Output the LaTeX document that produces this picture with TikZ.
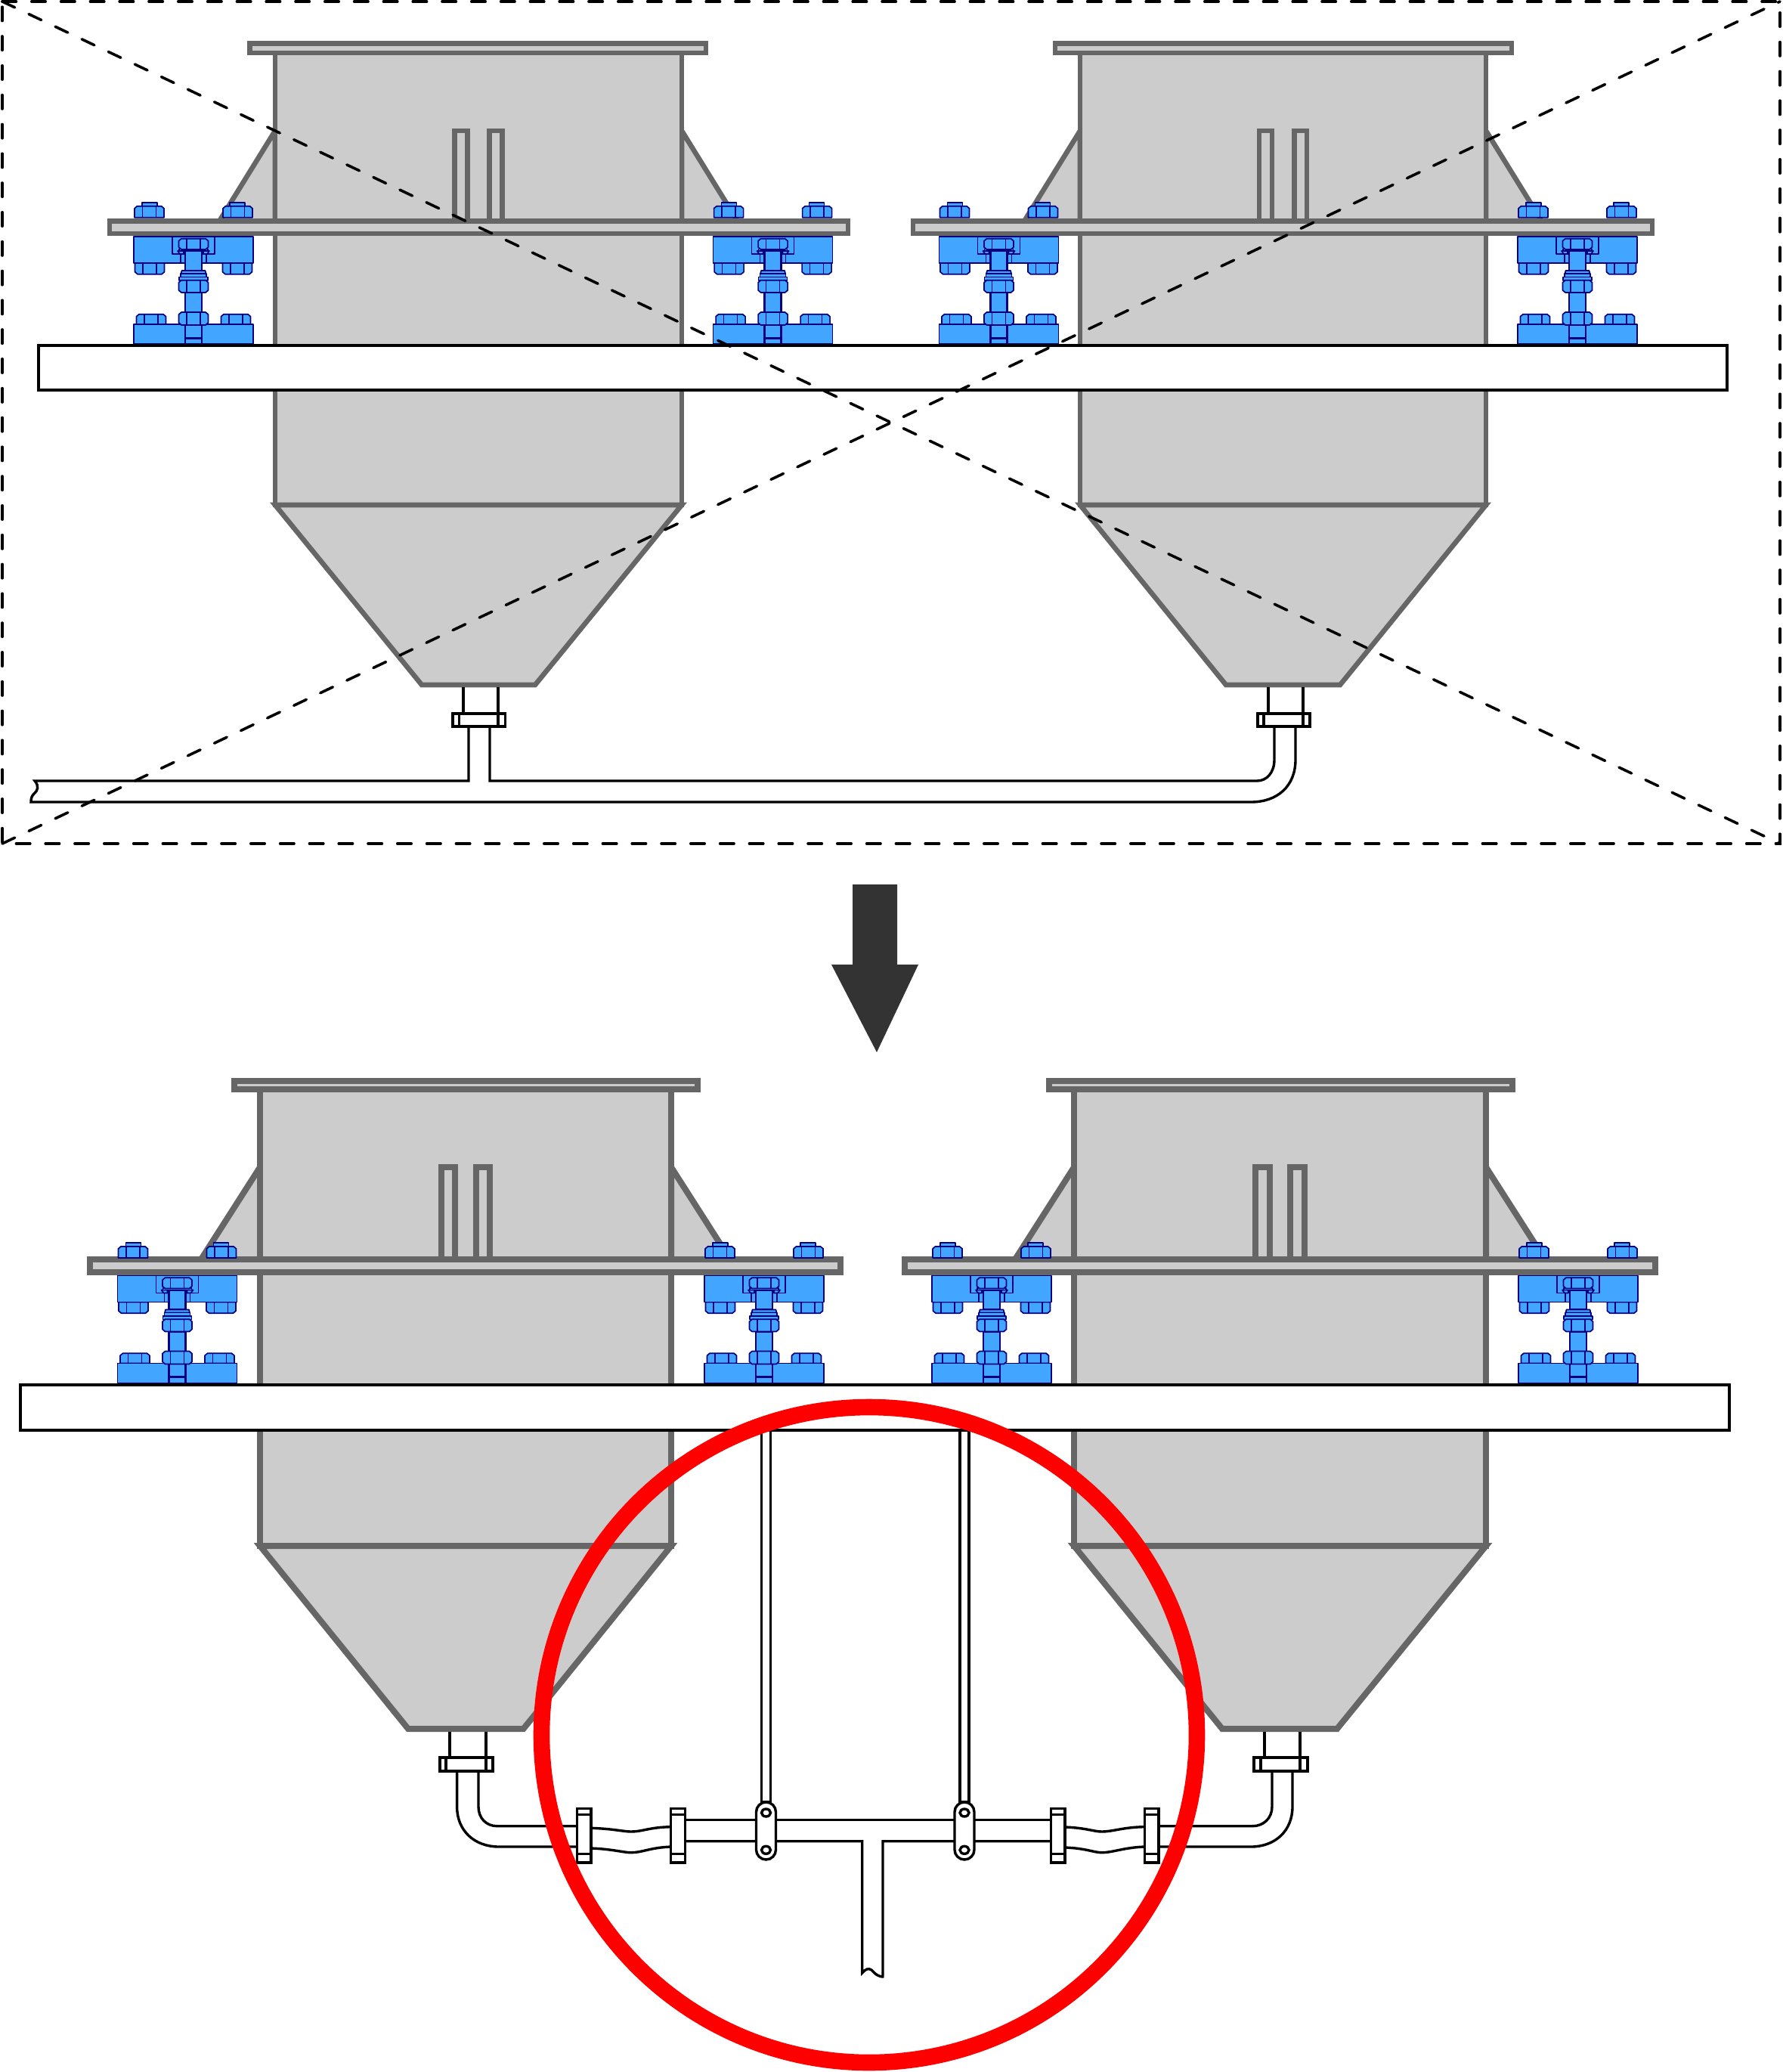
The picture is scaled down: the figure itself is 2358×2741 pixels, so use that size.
\documentclass[tikz,border=0pt]{standalone}
\definecolor{hopfill}{HTML}{CCCCCC}
\definecolor{hopline}{HTML}{666666}
\definecolor{boltfill}{HTML}{42A5FF}
\definecolor{boltline}{HTML}{00007F}
\definecolor{arrowdark}{HTML}{333333}
\def\hw{1.65pt}
\def\sw{16.7}
\tikzset{
  hop/.style={draw=hopline,fill=hopfill,line width=\hw,line join=miter},
  boltp/.style={draw=boltline,fill=boltfill,line width=0.42pt,line join=round},
  boltl/.style={draw=boltline,line width=0.42pt},
  shaftp/.style={draw=boltline,fill=boltfill,line width=0.6pt},
  pipe/.style={draw=black,line width=0.85pt,line join=miter},
  pipef/.style={pipe,fill=white},
  beam/.style={draw=black,fill=white,line width=0.9pt},
  dashline/.style={draw=black,line width=0.9pt,dash pattern=on 4.6pt off 5.1pt,line cap=round}
}
% nut: cx, ytop, ybottom
\newcommand{\nutd}[3]{%
  \path[boltp] (#1-19.5,#3) -- (#1-19.5,#2+3) -- (#1-16,#2) -- (#1+16,#2) -- (#1+19.5,#2+3) -- (#1+19.5,#3) -- cycle;
  \path[boltl] (#1-9,#2) -- (#1-9,#3) (#1+9,#2) -- (#1+9,#3);}
\newcommand{\nutu}[3]{%
  \path[boltp] (#1-19.5,#2) -- (#1-19.5,#3-3) -- (#1-16,#3) -- (#1+16,#3) -- (#1+19.5,#3-3) -- (#1+19.5,#2) -- cycle;
  \path[boltl] (#1-9,#2) -- (#1-9,#3) (#1+9,#2) -- (#1+9,#3);}
\newcommand{\nutb}[3]{%
  \path[boltp] (#1-16,#2) -- (#1+16,#2) -- (#1+19.5,#2+3) -- (#1+19.5,#3-3) -- (#1+16,#3) -- (#1-16,#3) -- (#1-19.5,#3-3) -- (#1-19.5,#2+3) -- cycle;
  \path[boltl] (#1-9,#2) -- (#1-9,#3) (#1+9,#2) -- (#1+9,#3);}
% centre x, y shift, shift of the two nuts above the plate
\newcommand{\assembly}[3]{%
\begin{scope}[shift={(#1,#2)}]
  \begin{scope}[yshift=#3*-0.25pt]
  \path[boltp] (-68,268) rectangle (-48,273);
  \path[boltp] (48,268) rectangle (68,273);
  \nutd{-58.5}{272.7}{287.7}
  \nutd{58.5}{272.7}{287.7}
  \end{scope}
  \nutu{-58}{348}{362.7}
  \nutu{58}{348}{362.7}
  \path[boltp] (-79,313) rectangle (79,348);
  \path[boltp] (-28,313) rectangle (28,336);
  \path[boltl] (-17,336) -- (-17,348) (17,336) -- (17,348);
  \path[shaftp] (-11,332) rectangle (11,358);
  \path[boltp] (-21,332) -- (-13,332) -- (-13,336) -- (-18,336) -- cycle;
  \path[boltp] (21,332) -- (13,332) -- (13,336) -- (18,336) -- cycle;
  \path[boltp] (-19,329.5) rectangle (19,332);
  \nutb{0}{315.7}{330}
  \path[boltp] (-16.5,362) -- (-15.5,358) -- (15.5,358) -- (16.5,362) -- cycle;
  \path[boltp] (-17,362) rectangle (17,366.5);
  \path[boltp] (-19,366.5) rectangle (19,371);
  \path[shaftp] (-11,387) rectangle (11,414);
  \nutb{0}{370.7}{387}
  \nutd{-56}{415.7}{429}
  \nutd{56}{415.7}{429}
  \path[boltp] (-79,429) rectangle (79,455);
  \path[shaftp] (-11,429) -- (-11,455) (11,455) -- (11,429);
  \path[fill=boltline] (-11,445.5) rectangle (11,448.5);
  \nutb{0}{413}{430}
\end{scope}}
\newcommand{\hopper}[9]{%
  \def\bL{#1}\def\bR{#2}\def\fL{#3}\def\fR{#4}\def\cL{#5}\def\cR{#6}%
  \def\yA{#7}\def\yB{#8}\def\yC{#9}\hopperb}
\newcommand{\hopperb}[5]{%
  \path[hop] (\bL,#2) -- (\bL-#4,#3) -- (\bL,#3) -- cycle;
  \path[hop] (\bR,#2) -- (\bR+#4,#3) -- (\bR,#3) -- cycle;
  \path[hop] (\bL,\yB) rectangle (\bR,\yC);
  \path[hop] (\bL,\yC) -- (\bR,\yC) -- (\cR,#1) -- (\cL,#1) -- cycle;
  \path[hop] (\fL,\yA) rectangle (\fR,\yB);
  \pgfmathsetmacro{\sc}{(\bL+\bR)/2}
  \path[hop] (\sc-#5-\sw,#2) rectangle (\sc-#5,#3);
  \path[hop] (\sc+#5,#2) rectangle (\sc+#5+\sw,#3);
}
\begin{document}
\begin{tikzpicture}[x=0.25pt,y=-0.25pt]
\useasboundingbox (0,0) rectangle (2358,2741);
\fill[white] (0,0) rectangle (2358,2741);
\coordinate (tl) at (3,2); \coordinate (tr) at (2355,2);
\coordinate (bl) at (3,1116); \coordinate (br) at (2355,1116);
% TOP
\hopper{364}{902}{330.5}{934}{558}{708}{57.5}{70}{668}{906}{173}{296}{76}{14.7}
\hopper{1429}{1966}{1396}{2000}{1622}{1773}{57.5}{70}{668}{906}{173}{296}{76}{14.7}
\path[hop] (145,292.5) rectangle (1122,309);
\path[hop] (1208,292.5) rectangle (2186,309);
\assembly{256}{0}{0}\assembly{1022.6}{0}{0}\assembly{1321.5}{0}{0}\assembly{2087}{0}{0}
\draw[beam] (51,457) rectangle (2285,516);
% top pipes
\path[pipe] (613,909) -- (613,944) (659,909) -- (659,944);
\path[pipe] (620,961) -- (620,1033) -- (46,1033) .. controls (52,1040) and (50,1046) .. (45,1050) .. controls (42,1053) and (41,1056) .. (41,1061) -- (1655,1061) .. controls (1690,1061) and (1714,1040) .. (1714,1005) -- (1714,961);
\path[pipe] (1686,961) -- (1686,1005) .. controls (1686,1022) and (1676,1033) .. (1663,1033) -- (648,1033) -- (648,961);
\path[pipef] (599,944) rectangle (668.5,961);
\draw[pipe] (607.5,944) -- (607.5,961) (659,944) -- (659,961);
\path[pipe] (1678,909) -- (1678,944) (1724,909) -- (1724,944);
\path[pipef] (1664,944) rectangle (1733,961);
\draw[pipe] (1672,944) -- (1672,961) (1724,944) -- (1724,961);
% dashed frame
\draw[dashline] (tl) -- (tr) -- (br) -- (bl) -- cycle;
\draw[dashline] (tl) -- (br);
\draw[dashline] (bl) -- (tr);
% arrow
\fill[arrowdark] (1128,1170) -- (1187,1170) -- (1187,1276) -- (1215,1276) -- (1160,1392) -- (1100,1276) -- (1128,1276) -- cycle;
% BOTTOM
\def\hw{2pt}
\def\sw{18.3}
\hopper{344}{888}{310}{923}{540}{692.5}{1430}{1441}{2045}{2287}{1544}{1666}{78}{13.8}
\hopper{1421}{1966}{1388}{2001}{1617}{1769}{1430}{1441}{2045}{2287}{1544}{1666}{78}{13.8}
\path[hop] (119,1666) rectangle (1112,1682.5);
\path[hop] (1197,1666) rectangle (2190,1682.5);
\assembly{234.5}{1374.5}{1.7}\assembly{1011}{1374.5}{1.7}\assembly{1312}{1374.5}{1.7}\assembly{2088}{1374.5}{1.7}
\draw[beam] (27,1832) rectangle (2288,1892);
% rods
\path[pipef] (1007.5,1892) rectangle (1019.5,2384);
\path[pipef] (1270,1892) rectangle (1282,2384);
% left bottom pipes
\path[pipe] (595,2291) -- (595,2325) (643,2291) -- (643,2325);
\path[pipe] (604.6,2343) -- (604.6,2390) .. controls (604.6,2422) and (628,2443) .. (660,2443) -- (764,2443);
\path[pipe] (633,2343) -- (633,2390) .. controls (633,2405) and (643,2415.7) .. (658,2415.7) -- (764,2415.7);
\path[pipef] (582,2325) rectangle (652,2343);
\draw[pipe] (590,2325) -- (590,2343) (643,2325) -- (643,2343);
% right bottom pipes
\path[pipe] (1673,2291) -- (1673,2325) (1720,2291) -- (1720,2325);
\path[pipe] (1710,2343) -- (1710,2390) .. controls (1710,2422) and (1687,2443) .. (1655,2443) -- (1533,2443);
\path[pipe] (1683,2343) -- (1683,2390) .. controls (1683,2405) and (1672,2415.7) .. (1657,2415.7) -- (1533,2415.7);
\path[pipef] (1659,2325) rectangle (1730,2343);
\draw[pipe] (1668,2325) -- (1668,2343) (1720,2325) -- (1720,2343);
% middle pipe with T
\path[pipe] (906,2407.7) -- (1390,2407.7);
\path[pipe] (906,2435.7) -- (1140.7,2435.7) -- (1140.7,2610) .. controls (1145,2605) and (1149,2603) .. (1153,2606) .. controls (1158,2611) and (1161,2615) .. (1169.5,2615) (1168,2615) -- (1168,2435.7) -- (1390,2435.7);
% flex left
\path[pipe] (781.6,2418.3) .. controls (810,2419) and (825,2423) .. (835,2423) .. controls (850,2423) and (860,2417) .. (888,2416.7);
\path[pipe] (781.6,2445) .. controls (810,2446) and (825,2450.7) .. (835,2450.7) .. controls (850,2450.7) and (860,2444) .. (888,2443);
% flex right
\path[pipe] (1409,2417) .. controls (1437,2418) and (1447,2423) .. (1458,2423) .. controls (1472,2423) and (1487,2417) .. (1514,2416.7);
\path[pipe] (1409,2444) .. controls (1437,2445) and (1447,2450.7) .. (1458,2450.7) .. controls (1472,2450.7) and (1487,2444) .. (1514,2443);
% clamps
\foreach \cx in {772.6,897,1399.5,1523.5}{
  \path[pipef] (\cx-9.3,2392.7) rectangle (\cx+9.3,2464);
  \draw[pipe] (\cx-9.3,2400.7) -- (\cx+9.3,2400.7) (\cx-9.3,2452.7) -- (\cx+9.3,2452.7);
}
\foreach \cx in {1013.5,1276}{
  \path[pipef,rounded corners=3.25pt] (\cx-13,2384) rectangle (\cx+13,2460);
  \draw[pipef] (\cx,2398) ellipse (6 and 5);
  \draw[pipef] (\cx,2447.3) ellipse (6 and 5);
}
% red ring
\draw[red,line width=5.4pt] (1150,2295) circle (433.5);
\end{tikzpicture}
\end{document}
